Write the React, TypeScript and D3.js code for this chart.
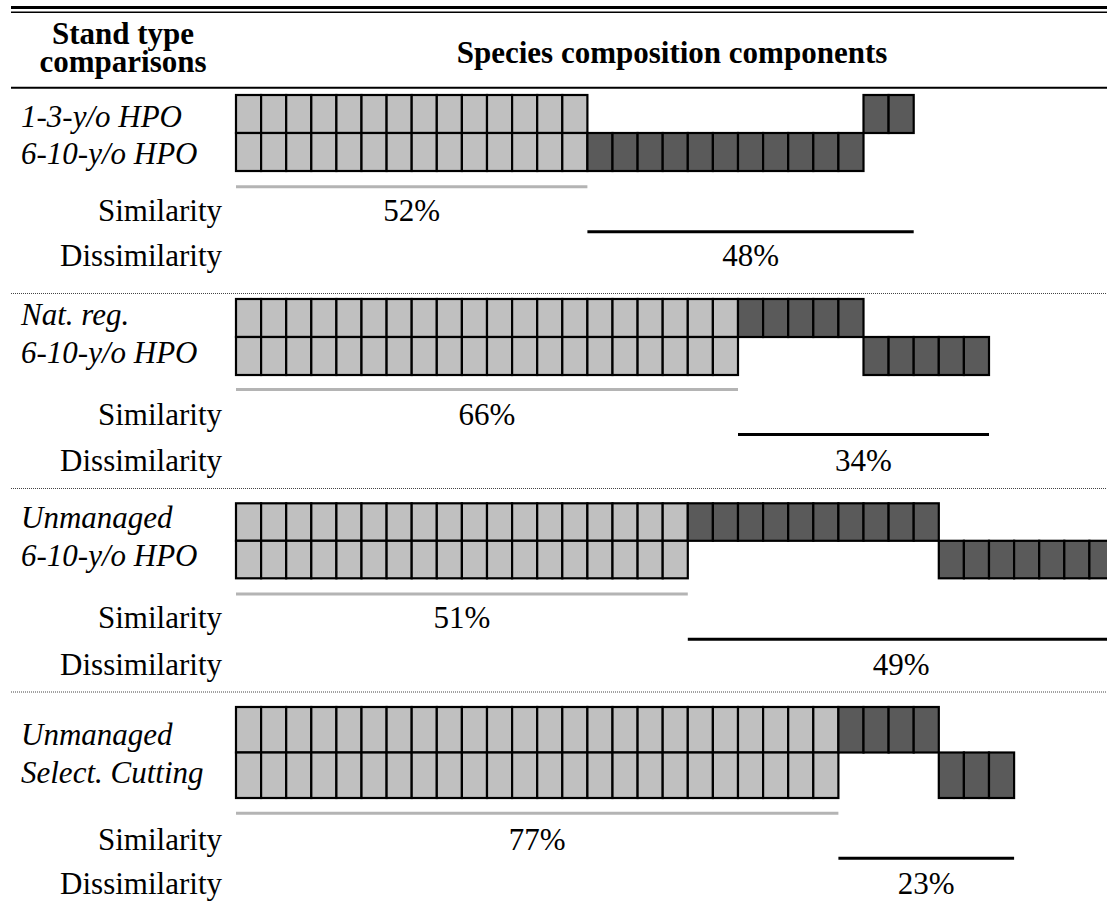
import React from "react";
import * as d3 from "d3";

// ---------- data ----------
const standA = ["1-3-y/o HPO", "Nat. reg.", "Unmanaged", "Unmanaged"];
const standB = ["6-10-y/o HPO", "6-10-y/o HPO", "6-10-y/o HPO", "Select. Cutting"];
const sharedCells = [14, 20, 18, 24];
const uniqueA = [2, 5, 10, 4];
const uniqueB = [11, 5, 7, 3];
// which stand's unique components are drawn first after the shared block
const firstUnique = ["B", "A", "A", "A"];
const similarityPct = [52, 66, 51, 77];
const dissimilarityPct = [48, 34, 49, 23];
const headerLeft = ["Stand type", "comparisons"];
const headerRight = "Species composition components";
const rowLabels = ["Similarity", "Dissimilarity"];

// ---------- layout ----------
const W = 1107;
const H = 909;
const CELL = 25.1;
const X0 = 236;
const layout = [
  { top: 95, rowH: 38, l1: 127, l2: 164, gray: 186.7, sim: 221, black: 231.7, dis: 266, sep: 293.5 },
  { top: 299, rowH: 38, l1: 325, l2: 363, gray: 389.5, sim: 425, black: 434.5, dis: 471, sep: 488.5 },
  { top: 503.3, rowH: 37.5, l1: 528, l2: 566, gray: 594, sim: 628, black: 639.3, dis: 675, sep: 692 },
  { top: 707, rowH: 45.5, l1: 745, l2: 783, gray: 813.3, sim: 850, black: 858.3, dis: 894, sep: null as number | null },
];

const FONT = "'Liberation Serif', 'Times New Roman', Times, serif";
const LIGHT = "#c0c0c0";
const DARK = "#5a5a5a";

export default function App() {
  const maxCols = d3.max(sharedCells.map((s, i) => s + uniqueA[i] + uniqueB[i])) as number;
  const x = d3.scaleLinear().domain([0, maxCols]).range([X0, X0 + maxCols * CELL]);

  return (
    <svg
      width={W}
      height={H}
      style={{ position: "absolute", left: 0, top: 0, background: "#fff" }}
      fontFamily={FONT}
    >
      {/* header rules */}
      <line x1={11} x2={W} y1={7.5} y2={7.5} stroke="#000" strokeWidth={3} />
      <line x1={11} x2={W} y1={12.2} y2={12.2} stroke="#000" strokeWidth={1.5} />
      <line x1={11} x2={W} y1={87.8} y2={87.8} stroke="#000" strokeWidth={2} />
      <text x={123} y={44} textAnchor="middle" fontWeight="bold" fontSize={31}>
        <tspan x={123} y={44}>{headerLeft[0]}</tspan>
        <tspan x={123} y={72}>{headerLeft[1]}</tspan>
      </text>
      <text x={672} y={63} textAnchor="middle" fontWeight="bold" fontSize={31}>{headerRight}</text>

      {layout.map((L, i) => {
        const s = sharedCells[i];
        const a = uniqueA[i];
        const b = uniqueB[i];
        const aStart = firstUnique[i] === "A" ? s : s + b;
        const bStart = firstUnique[i] === "A" ? s + a : s;
        const total = s + a + b;
        const cells: { col: number; row: number; fill: string }[] = [];
        d3.range(s).forEach((c) => {
          cells.push({ col: c, row: 0, fill: LIGHT });
          cells.push({ col: c, row: 1, fill: LIGHT });
        });
        d3.range(a).forEach((c) => cells.push({ col: aStart + c, row: 0, fill: DARK }));
        d3.range(b).forEach((c) => cells.push({ col: bStart + c, row: 1, fill: DARK }));
        const yRow = d3.scaleLinear().domain([0, 2]).range([L.top, L.top + 2 * L.rowH]);
        return (
          <g key={i}>
            <text x={21} y={L.l1} fontSize={31} fontStyle="italic">{standA[i]}</text>
            <text x={21} y={L.l2} fontSize={31} fontStyle="italic">{standB[i]}</text>
            {cells.map((c, k) => (
              <rect
                key={k}
                x={x(c.col)}
                y={yRow(c.row)}
                width={x(c.col + 1) - x(c.col)}
                height={yRow(c.row + 1) - yRow(c.row)}
                fill={c.fill}
                stroke="#000"
                strokeWidth={2.2}
              />
            ))}
            <line x1={x(0)} x2={x(s)} y1={L.gray} y2={L.gray} stroke="#b4b4b4" strokeWidth={3} />
            <line x1={x(s)} x2={x(total)} y1={L.black} y2={L.black} stroke="#000" strokeWidth={3} />
            <text x={222} y={L.sim} fontSize={31} textAnchor="end">{rowLabels[0]}</text>
            <text x={222} y={L.dis} fontSize={31} textAnchor="end">{rowLabels[1]}</text>
            <text x={(x(0) + x(s)) / 2} y={L.sim} fontSize={31} textAnchor="middle">{similarityPct[i]}%</text>
            <text x={(x(s) + x(total)) / 2} y={L.dis} fontSize={31} textAnchor="middle">{dissimilarityPct[i]}%</text>
            {L.sep !== null && (
              <line x1={11} x2={W} y1={L.sep} y2={L.sep} stroke="#444" strokeWidth={1} strokeDasharray="1,1" />
            )}
          </g>
        );
      })}
    </svg>
  );
}
